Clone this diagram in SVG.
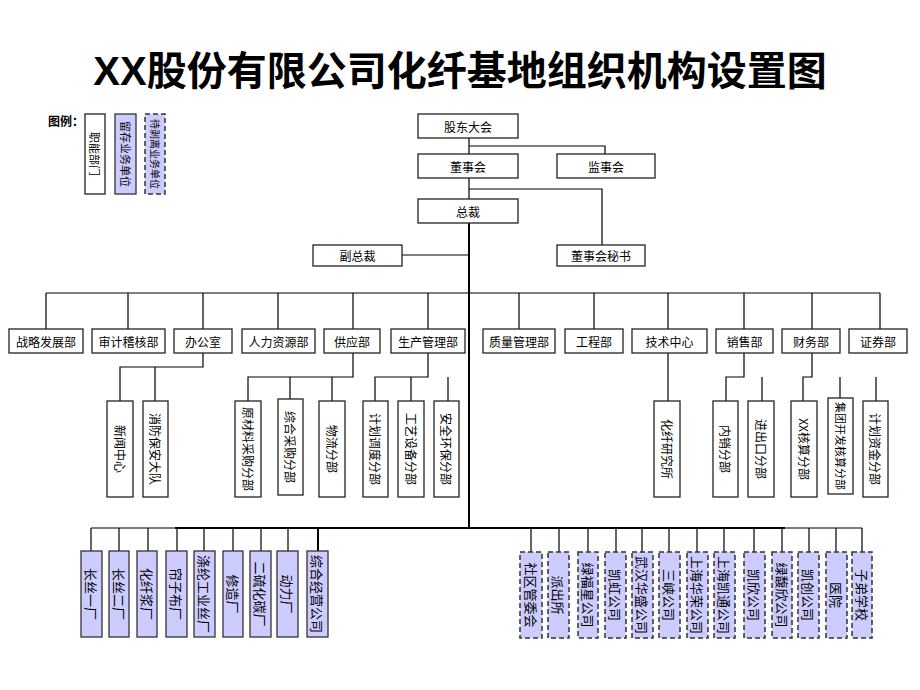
<svg xmlns="http://www.w3.org/2000/svg" width="920" height="690" viewBox="0 0 920 690">
<style>
.b{fill:#fff;stroke:#222;stroke-width:1.3}
.p{fill:#ccccff;stroke:#333;stroke-width:1.3}
.d{fill:#ccccff;stroke:#333;stroke-width:1.5;stroke-dasharray:5 3}
.t{font-family:"Noto Sans CJK SC","Noto Sans",sans-serif;font-size:12px;fill:#000;text-anchor:middle;dominant-baseline:central}
.s{font-size:13px}
.l{font-size:11px}
.c{stroke:#000;fill:none;stroke-width:1.2}
.k{stroke:#000;fill:none;stroke-width:2}
.title{font-family:"Liberation Sans","Noto Sans CJK SC",sans-serif;font-size:40px;font-weight:bold;text-anchor:middle;fill:#000}
</style>
<rect width="920" height="690" fill="#fff"/>
<text class="title" x="460" y="85">XX股份有限公司化纤基地组织机构设置图</text>

<g id="legend">
<text x="48" y="126" style="font-family:'Noto Sans CJK SC',sans-serif;font-size:12px;font-weight:bold">图例：</text>
<rect class="b" x="85" y="114" width="20" height="80"/>
<text class="t l" transform="translate(95,154) rotate(90)">职能部门</text>
<rect class="p" x="115" y="114" width="21" height="80"/>
<text class="t l" transform="translate(125.5,154) rotate(90)">留存业务单位</text>
<rect class="d" x="145" y="114" width="20" height="80"/>
<text class="t" style="font-size:10px" transform="translate(155,154) rotate(90)">待剥离业务单位</text>
</g>

<g id="connectors">
<path class="c" d="M469 138V154M469 146H605V154M469 178V199M469 189H602V245M402 255H469"/>
<path class="k" d="M469 223V528"/>
<path class="c" d="M46 293H880M46 293V329M128 293V329M203 293V329M278 293V329M353 293V329M428 293V329M519 293V329M594 293V329M668 293V329M744 293V329M812 293V329M880 293V329"/>
<path class="c" d="M203 353V367H120V401M155 367V401"/>
<path class="c" d="M353 353V377H248V401M290 377V399M332 377V401"/>
<path class="c" d="M428 353V377H375V401M411 377V401M448 377V401"/>
<path class="c" d="M668 353V401"/>
<path class="c" d="M744 353V377H726V401M762 377V401"/>
<path class="c" d="M812 353V377H803V401M840 377V398M876 377V401"/>
<path class="c" d="M91 528H862"/>
<path class="k" d="M175 528H785"/>
<path class="c" d="M91 528V551M119 528V551M148 528V551M177 528V551M204 528V551M233 528V551M261 528V551M288 528V551"/>
<path class="k" d="M318 528V551"/>
<path class="c" d="M531 528V552M559 528V552M588 528V552M616 528V552M642 528V552M669 528V552M697 528V552M724 528V552M754 528V552M782 528V552M809 528V552M836 528V552M862 528V552"/>
</g>

<g id="n-gudong"><rect class="b" x="418" y="114" width="100" height="24"/><text class="t" x="468" y="126">股东大会</text></g>
<g id="n-dongshihui"><rect class="b" x="418" y="154" width="100" height="24"/><text class="t" x="468" y="166">董事会</text></g>
<g id="n-jianshihui"><rect class="b" x="557" y="154" width="98" height="24"/><text class="t" x="606" y="166">监事会</text></g>
<g id="n-zongcai"><rect class="b" x="418" y="199" width="100" height="24"/><text class="t" x="468" y="211">总裁</text></g>
<g id="n-fuzongcai"><rect class="b" x="313" y="245" width="89" height="21"/><text class="t" x="357.5" y="255.5">副总裁</text></g>
<g id="n-mishu"><rect class="b" x="557" y="245" width="88" height="21"/><text class="t" x="601" y="255.5">董事会秘书</text></g>

<g id="d1"><rect class="b" x="9" y="329" width="74" height="24"/><text class="t" x="46" y="341">战略发展部</text></g>
<g id="d2"><rect class="b" x="92" y="329" width="73" height="24"/><text class="t" x="128.5" y="341">审计稽核部</text></g>
<g id="d3"><rect class="b" x="174" y="329" width="58" height="24"/><text class="t" x="203" y="341">办公室</text></g>
<g id="d4"><rect class="b" x="242" y="329" width="73" height="24"/><text class="t" x="278.5" y="341">人力资源部</text></g>
<g id="d5"><rect class="b" x="324" y="329" width="56" height="24"/><text class="t" x="352" y="341">供应部</text></g>
<g id="d6"><rect class="b" x="391" y="329" width="74" height="24"/><text class="t" x="428" y="341">生产管理部</text></g>
<g id="d7"><rect class="b" x="483" y="329" width="72" height="24"/><text class="t" x="519" y="341">质量管理部</text></g>
<g id="d8"><rect class="b" x="565" y="329" width="58" height="24"/><text class="t" x="594" y="341">工程部</text></g>
<g id="d9"><rect class="b" x="632" y="329" width="75" height="24"/><text class="t" x="669.5" y="341">技术中心</text></g>
<g id="d10"><rect class="b" x="716" y="329" width="57" height="24"/><text class="t" x="744.5" y="341">销售部</text></g>
<g id="d11"><rect class="b" x="782" y="329" width="58" height="24"/><text class="t" x="811" y="341">财务部</text></g>
<g id="d12"><rect class="b" x="849" y="329" width="58" height="24"/><text class="t" x="878" y="341">证券部</text></g>

<g id="s1"><rect class="b" x="107" y="401" width="26" height="96"/><text class="t" transform="translate(120,449) rotate(90)">新闻中心</text></g>
<g id="s2"><rect class="b" x="143" y="401" width="25" height="96"/><text class="t" transform="translate(155.5,449) rotate(90)">消防保安大队</text></g>
<g id="s3"><rect class="b" x="235" y="401" width="26" height="96"/><text class="t" transform="translate(248,449) rotate(90)">原材料采购分部</text></g>
<g id="s4"><rect class="b" x="278" y="399" width="25" height="96"/><text class="t" transform="translate(290.5,447) rotate(90)">综合采购分部</text></g>
<g id="s5"><rect class="b" x="319" y="401" width="26" height="96"/><text class="t" transform="translate(332,449) rotate(90)">物流分部</text></g>
<g id="s6"><rect class="b" x="363" y="401" width="25" height="96"/><text class="t" transform="translate(375.5,449) rotate(90)">计划调度分部</text></g>
<g id="s7"><rect class="b" x="398" y="401" width="26" height="96"/><text class="t" transform="translate(411,449) rotate(90)">工艺设备分部</text></g>
<g id="s8"><rect class="b" x="434" y="401" width="25" height="96"/><text class="t" transform="translate(446.5,449) rotate(90)">安全环保分部</text></g>
<g id="s9"><rect class="b" x="654" y="401" width="26" height="96"/><text class="t" transform="translate(667,449) rotate(90)">化纤研究所</text></g>
<g id="s10"><rect class="b" x="713" y="401" width="25" height="96"/><text class="t" transform="translate(725.5,449) rotate(90)">内销分部</text></g>
<g id="s11"><rect class="b" x="748" y="401" width="26" height="96"/><text class="t" transform="translate(761,449) rotate(90)">进出口分部</text></g>
<g id="s12"><rect class="b" x="791" y="401" width="26" height="96"/><text class="t" transform="translate(804,449) rotate(90)">XX核算分部</text></g>
<g id="s13"><rect class="b" x="828" y="398" width="25" height="96"/><text class="t l" transform="translate(840.5,446) rotate(90)">集团开发核算分部</text></g>
<g id="s14"><rect class="b" x="863" y="401" width="25" height="96"/><text class="t" transform="translate(875.5,449) rotate(90)">计划资金分部</text></g>

<g id="f1"><rect class="p" x="81" y="551" width="21" height="86"/><text class="t s" transform="translate(91.5,594) rotate(90)">长丝一厂</text></g>
<g id="f2"><rect class="p" x="109" y="551" width="20" height="86"/><text class="t s" transform="translate(119,594) rotate(90)">长丝二厂</text></g>
<g id="f3"><rect class="p" x="137" y="551" width="20" height="86"/><text class="t s" transform="translate(147,594) rotate(90)">化纤浆厂</text></g>
<g id="f4"><rect class="p" x="166" y="551" width="21" height="86"/><text class="t s" transform="translate(176.5,594) rotate(90)">帘子布厂</text></g>
<g id="f5"><rect class="p" x="194" y="551" width="21" height="86"/><text class="t s" transform="translate(204.5,594) rotate(90)">涤纶工业丝厂</text></g>
<g id="f6"><rect class="p" x="223" y="551" width="20" height="86"/><text class="t s" transform="translate(233,594) rotate(90)">修造厂</text></g>
<g id="f7"><rect class="p" x="250" y="551" width="21" height="86"/><text class="t s" transform="translate(260.5,594) rotate(90)">二硫化碳厂</text></g>
<g id="f8"><rect class="p" x="277" y="551" width="21" height="86"/><text class="t s" transform="translate(287.5,594) rotate(90)">动力厂</text></g>
<g id="f9"><rect class="p" x="307" y="551" width="21" height="86"/><text class="t s" transform="translate(317.5,594) rotate(90)">综合经营公司</text></g>

<g id="r1"><rect class="d" x="520" y="552" width="22" height="86"/><text class="t s" transform="translate(531,595) rotate(90)">社区管委会</text></g>
<g id="r2"><rect class="d" x="548" y="552" width="21" height="86"/><text class="t s" transform="translate(558.5,595) rotate(90)">派出所</text></g>
<g id="r3"><rect class="d" x="578" y="552" width="20" height="86"/><text class="t s" transform="translate(588,595) rotate(90)">绿福星公司</text></g>
<g id="r4"><rect class="d" x="605" y="552" width="21" height="86"/><text class="t s" transform="translate(615.5,595) rotate(90)">凯虹公司</text></g>
<g id="r5"><rect class="d" x="632" y="552" width="21" height="86"/><text class="t s" transform="translate(642.5,595) rotate(90)">武汉华盛公司</text></g>
<g id="r6"><rect class="d" x="659" y="552" width="21" height="86"/><text class="t s" transform="translate(669.5,595) rotate(90)">三峡公司</text></g>
<g id="r7"><rect class="d" x="687" y="552" width="21" height="86"/><text class="t s" transform="translate(697.5,595) rotate(90)">上海华荣公司</text></g>
<g id="r8"><rect class="d" x="714" y="552" width="21" height="86"/><text class="t s" transform="translate(724.5,595) rotate(90)">上海凯通公司</text></g>
<g id="r9"><rect class="d" x="744" y="552" width="21" height="86"/><text class="t s" transform="translate(754.5,595) rotate(90)">凯欣公司</text></g>
<g id="r10"><rect class="d" x="772" y="552" width="20" height="86"/><text class="t s" transform="translate(782,595) rotate(90)">绿馥欣公司</text></g>
<g id="r11"><rect class="d" x="798" y="552" width="21" height="86"/><text class="t s" transform="translate(808.5,595) rotate(90)">凯创公司</text></g>
<g id="r12"><rect class="d" x="826" y="552" width="21" height="86"/><text class="t s" transform="translate(836.5,595) rotate(90)">医院</text></g>
<g id="r13"><rect class="d" x="852" y="552" width="20" height="86"/><text class="t s" transform="translate(862,595) rotate(90)">子弟学校</text></g>
</svg>
